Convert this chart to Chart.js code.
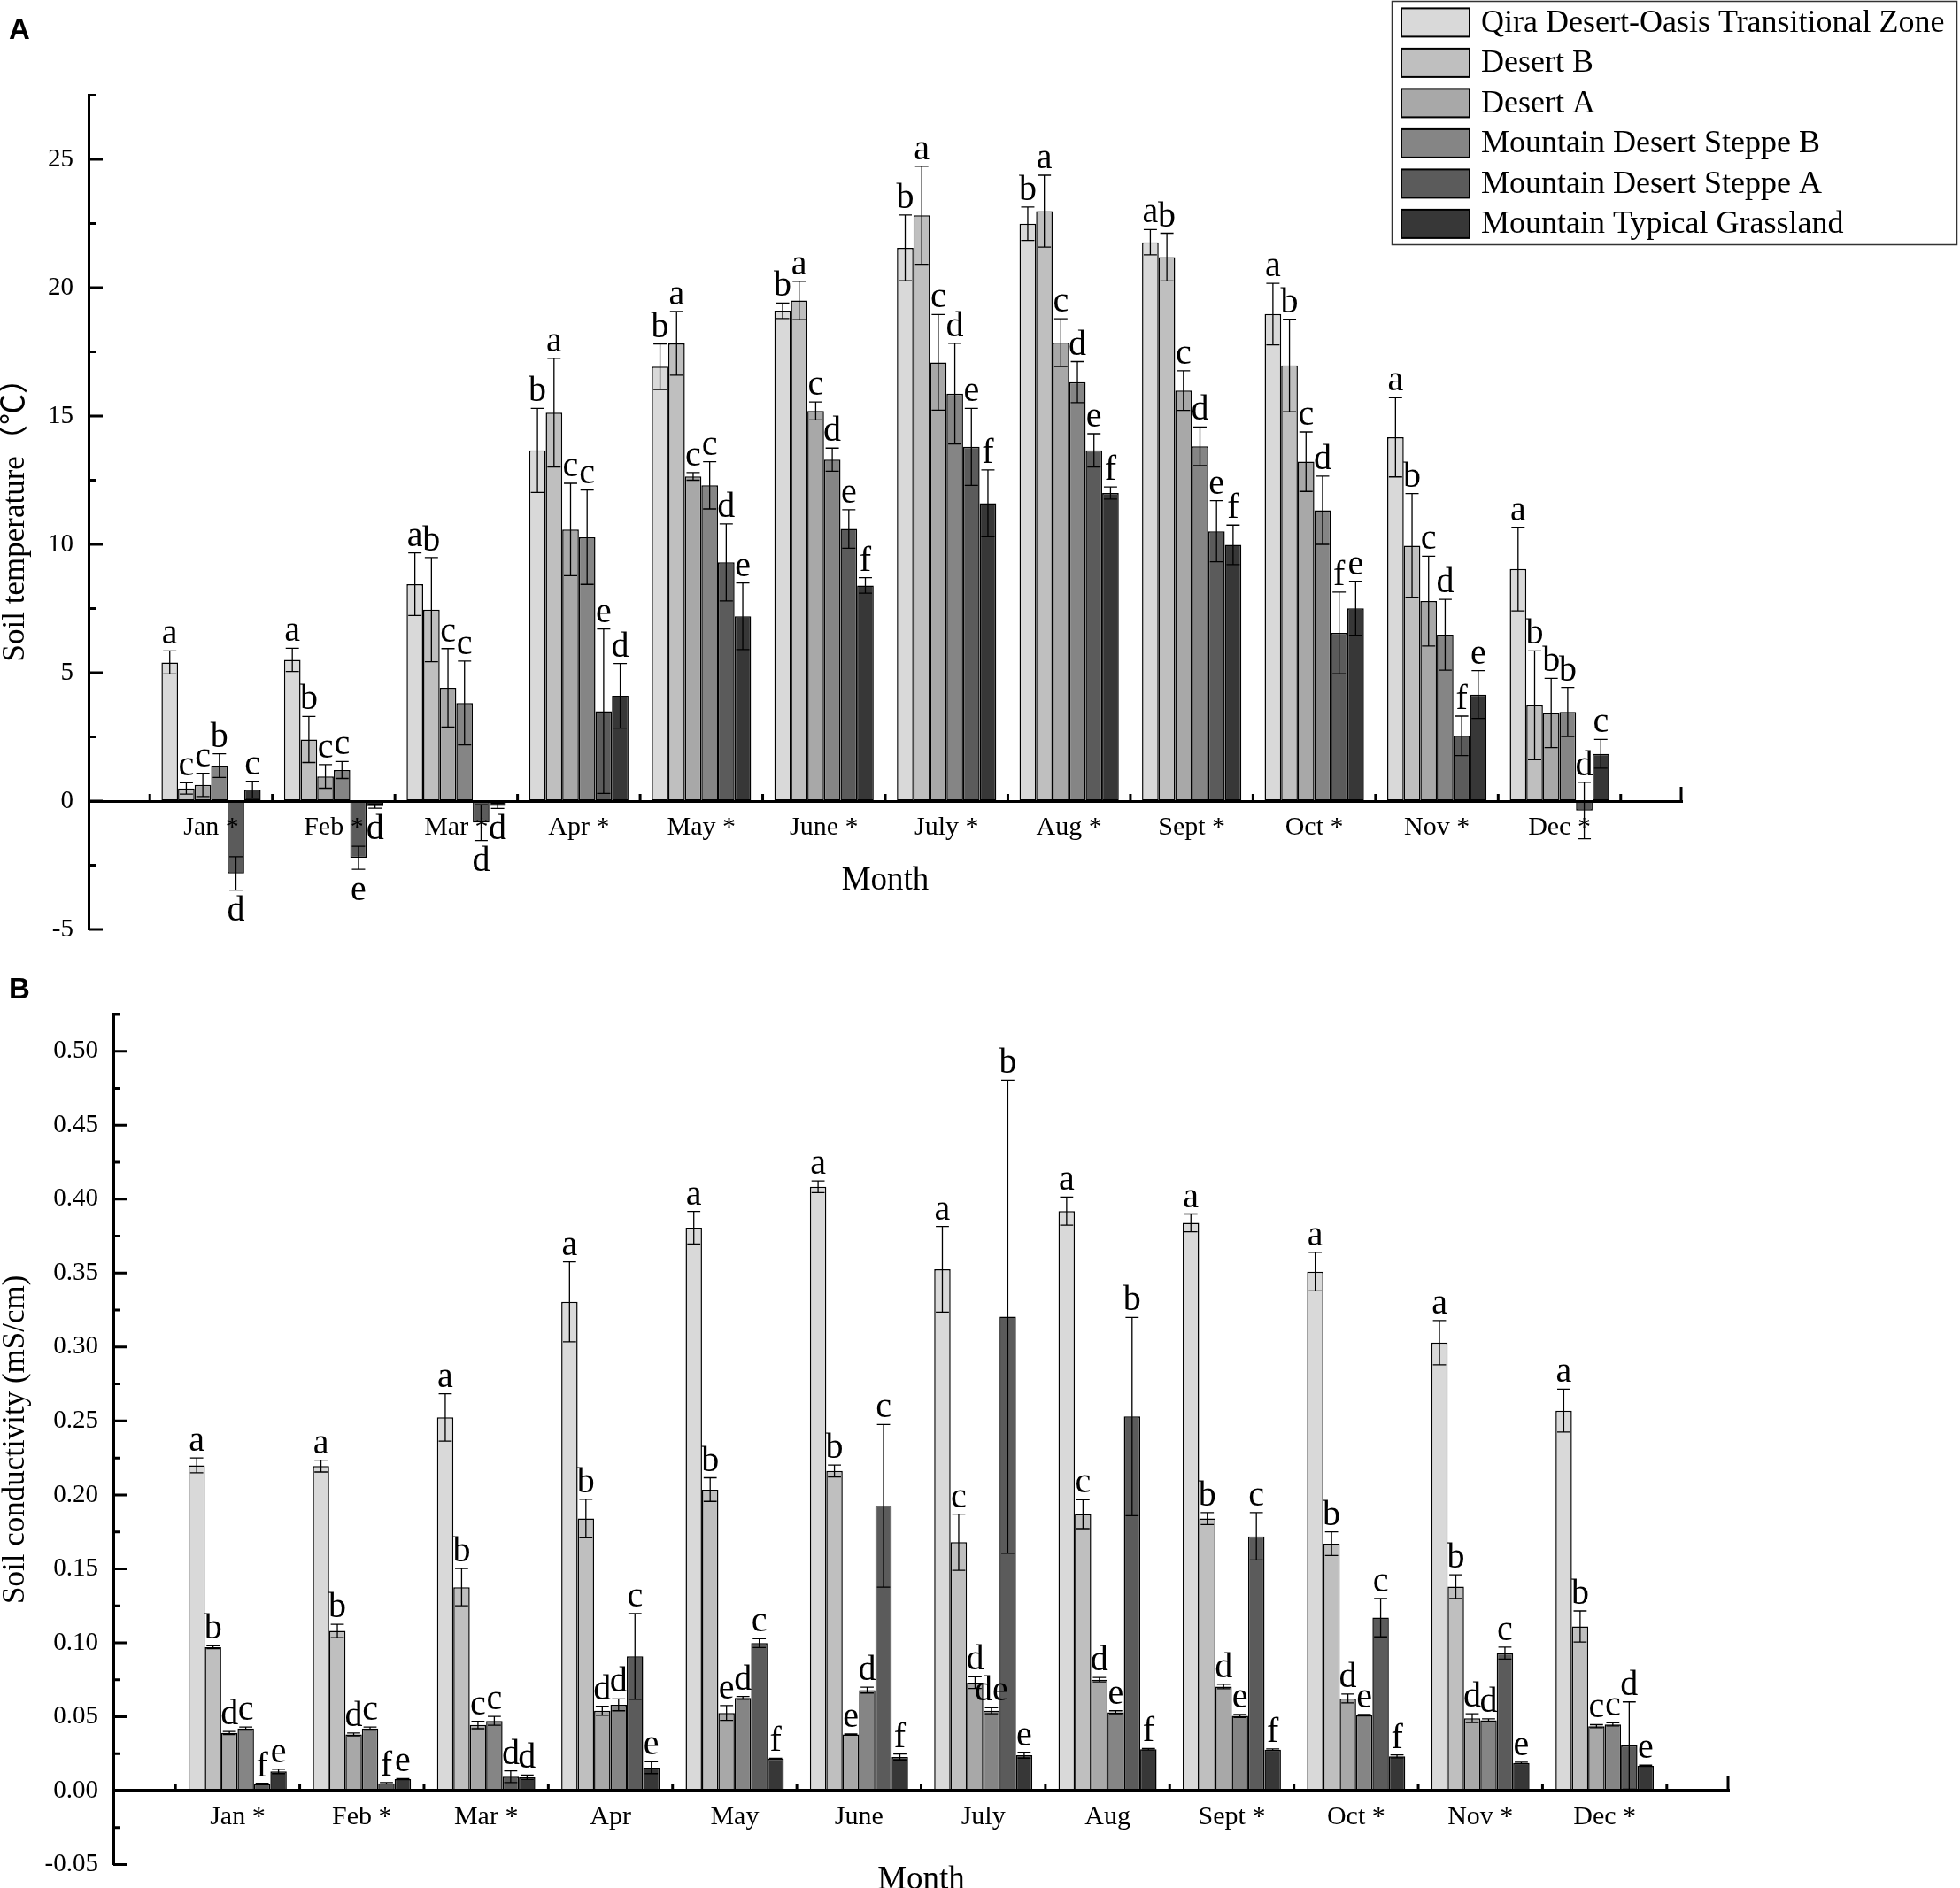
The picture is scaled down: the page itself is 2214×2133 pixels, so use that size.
<!DOCTYPE html>
<html>
<head>
<meta charset="utf-8">
<script src="https://cdn.jsdelivr.net/npm/chart.js@4.4.0/dist/chart.umd.min.js"></script>
<style>
  body { margin: 0; background: #fff; }
  canvas { position: absolute; left: 0; }
</style>
</head>
<body>
<canvas id="chartA" width="2214" height="1066" style="top:0;width:2214px;height:1066px"></canvas>
<canvas id="chartB" width="2214" height="1067" style="top:1066px;width:2214px;height:1067px"></canvas>
<script>
const zones = ['Qira Desert-Oasis Transitional Zone', 'Desert B', 'Desert A',
  'Mountain Desert Steppe B', 'Mountain Desert Steppe A', 'Mountain Typical Grassland'];
const zoneColors = ['#d9d9d9', '#bfbfbf', '#a8a8a8', '#858585', '#5b5b5b', '#373737'];

const tempMonthLabels = ['Jan *', 'Feb *', 'Mar *', 'Apr *', 'May *', 'June *', 'July *', 'Aug *', 'Sept *', 'Oct *', 'Nov *', 'Dec *'];
const condMonthLabels = ['Jan *', 'Feb *', 'Mar *', 'Apr', 'May', 'June', 'July', 'Aug', 'Sept *', 'Oct *', 'Nov *', 'Dec *'];

// A: soil temperature (deg C), mean and SD
const tempQira      = [5.4, 5.5, 8.45, 13.66, 16.92, 19.1, 21.55, 22.49, 21.77, 18.97, 14.17, 9.04];
const tempQiraSD    = [0.45, 0.45, 1.22, 1.64, 0.89, 0.3, 1.28, 0.65, 0.49, 1.2, 1.54, 1.63];
const tempDesertB   = [0.49, 2.4, 7.46, 15.13, 17.83, 19.5, 22.82, 22.98, 21.19, 16.97, 9.95, 3.73];
const tempDesertBSD = [0.22, 0.9, 2.03, 2.12, 1.24, 0.75, 1.91, 1.4, 0.93, 1.8, 2.03, 2.12];
const tempDesertA   = [0.63, 0.96, 4.41, 10.58, 12.65, 15.2, 17.09, 17.86, 15.99, 13.22, 7.79, 3.43];
const tempDesertASD = [0.45, 0.46, 1.53, 1.8, 0.15, 0.35, 1.86, 0.93, 0.77, 1.16, 1.75, 1.35];
const tempSteppeB   = [1.38, 1.21, 3.82, 10.28, 12.3, 13.3, 15.87, 16.32, 13.82, 11.33, 6.48, 3.47];
const tempSteppeBSD = [0.46, 0.33, 1.63, 1.84, 0.92, 0.45, 1.96, 0.8, 0.75, 1.33, 1.38, 0.96];
const tempSteppeA   = [-2.82, -2.21, -0.84, 3.5, 9.3, 10.6, 13.8, 13.66, 10.51, 6.55, 2.54, -0.37];
const tempSteppeASD = [0.65, 0.45, 0.7, 3.2, 1.5, 0.75, 1.5, 0.65, 1.19, 1.59, 0.77, 1.1];
const tempGrass     = [0.44, -0.2, -0.19, 4.1, 7.2, 8.4, 11.6, 12.0, 9.98, 7.51, 4.15, 1.84];
const tempGrassSD   = [0.33, 0.08, 0.1, 1.26, 1.3, 0.3, 1.3, 0.24, 0.77, 1.05, 0.93, 0.56];

const tempQiraSig    = ['a', 'a', 'a', 'b', 'b', 'b', 'b', 'b', 'a', 'a', 'a', 'a'];
const tempDesertBSig = ['c', 'b', 'b', 'a', 'a', 'a', 'a', 'a', 'b', 'b', 'b', 'b'];
const tempDesertASig = ['c', 'c', 'c', 'c', 'c', 'c', 'c', 'c', 'c', 'c', 'c', 'b'];
const tempSteppeBSig = ['b', 'c', 'c', 'c', 'c', 'd', 'd', 'd', 'd', 'd', 'd', 'b'];
const tempSteppeASig = ['d', 'e', 'd', 'e', 'd', 'e', 'e', 'e', 'e', 'f', 'f', 'd'];
const tempGrassSig   = ['c', 'd', 'd', 'd', 'e', 'f', 'f', 'f', 'f', 'e', 'e', 'c'];

// B: soil conductivity (mS/cm), mean and SD
const condQira      = [0.220, 0.2195, 0.2524, 0.3306, 0.3807, 0.4084, 0.3526, 0.392, 0.384, 0.351, 0.303, 0.257];
const condQiraSD    = [0.005, 0.004, 0.016, 0.027, 0.011, 0.004, 0.029, 0.0095, 0.006, 0.013, 0.015, 0.0145];
const condDesertB   = [0.097, 0.108, 0.1376, 0.184, 0.2036, 0.2162, 0.168, 0.187, 0.184, 0.167, 0.138, 0.111];
const condDesertBSD = [0.001, 0.0045, 0.0126, 0.013, 0.008, 0.004, 0.019, 0.0098, 0.004, 0.008, 0.008, 0.0105];
const condDesertA   = [0.039, 0.038, 0.0444, 0.054, 0.0525, 0.038, 0.073, 0.075, 0.0704, 0.0623, 0.049, 0.0436];
const condDesertASD = [0.001, 0.001, 0.0025, 0.003, 0.005, 0.0003, 0.004, 0.0015, 0.0015, 0.003, 0.003, 0.001];
const condSteppeB   = [0.042, 0.042, 0.0472, 0.058, 0.0627, 0.068, 0.054, 0.053, 0.0505, 0.051, 0.0476, 0.0448];
const condSteppeBSD = [0.001, 0.001, 0.003, 0.004, 0.001, 0.002, 0.002, 0.001, 0.001, 0.0005, 0.001, 0.001];
const condSteppeA   = [0.0045, 0.0049, 0.0094, 0.0908, 0.0998, 0.1926, 0.3205, 0.253, 0.172, 0.117, 0.093, 0.0305];
const condSteppeASD = [0.0005, 0.0005, 0.004, 0.029, 0.003, 0.055, 0.16, 0.067, 0.016, 0.013, 0.004, 0.0295];
const condGrass     = [0.013, 0.0077, 0.009, 0.0155, 0.0216, 0.0228, 0.024, 0.028, 0.0277, 0.0232, 0.0187, 0.0167];
const condGrassSD   = [0.0015, 0.0005, 0.0015, 0.004, 0.0003, 0.002, 0.002, 0.0005, 0.0005, 0.001, 0.0005, 0.0005];

const condQiraSig    = ['a', 'a', 'a', 'a', 'a', 'a', 'a', 'a', 'a', 'a', 'a', 'a'];
const condDesertBSig = ['b', 'b', 'b', 'b', 'b', 'b', 'c', 'c', 'b', 'b', 'b', 'b'];
const condDesertASig = ['d', 'd', 'c', 'd', 'e', 'e', 'd', 'd', 'd', 'd', 'd', 'c'];
const condSteppeBSig = ['c', 'c', 'c', 'd', 'd', 'd', 'de', 'e', 'e', 'e', 'd', 'c'];
const condSteppeASig = ['f', 'f', 'd', 'c', 'c', 'c', 'b', 'b', 'c', 'c', 'c', 'd'];
const condGrassSig   = ['e', 'e', 'd', 'e', 'f', 'f', 'e', 'f', 'f', 'f', 'e', 'e'];

const SERIF = '"Liberation Serif", "Noto Sans CJK SC", serif';

// one empty half-slot each side of the months, as in the original axis
const pad = a => [null, ...a, null];

function makeDatasets(values, sds, sigs, catPct) {
  return values.map((v, i) => ({
    label: zones[i],
    data: pad(v),
    errors: pad(sds[i]),
    letters: pad(sigs[i]),
    backgroundColor: zoneColors[i],
    borderColor: '#000',
    borderWidth: 1.5,
    borderSkipped: false,
    categoryPercentage: catPct,
    barPercentage: 1
  }));
}

const decor = {
  id: 'decor',
  afterDatasetsDraw(chart, args, opts) {
    const ctx = chart.ctx, ys = chart.scales.y;
    ctx.save();
    ctx.font = '40px ' + SERIF;
    ctx.fillStyle = '#000';
    ctx.strokeStyle = '#000';
    chart.data.datasets.forEach((ds, i) => {
      chart.getDatasetMeta(i).data.forEach((bar, j) => {
        const v = ds.data[j];
        if (v == null) return;
        const e = ds.errors[j];
        const top = ys.getPixelForValue(v + e), bot = ys.getPixelForValue(v - e);
        const cap = bar.width * 0.4;
        ctx.lineWidth = 1.3;
        ctx.beginPath();
        ctx.moveTo(bar.x, top); ctx.lineTo(bar.x, bot);
        ctx.moveTo(bar.x - cap, top); ctx.lineTo(bar.x + cap, top);
        ctx.moveTo(bar.x - cap, bot); ctx.lineTo(bar.x + cap, bot);
        ctx.stroke();
        // significance letter above the whisker, or below it for negative means
        ctx.textAlign = 'center';
        if (v + e >= 0) {
          ctx.textBaseline = 'alphabetic';
          ctx.fillText(ds.letters[j], bar.x, top - 8);
        } else {
          ctx.textBaseline = 'top';
          ctx.fillText(ds.letters[j], bar.x, bot + 4);
        }
      });
    });
    ctx.restore();
  },
  afterDraw(chart, args, opts) {
    const ctx = chart.ctx, xs = chart.scales.x, ys = chart.scales.y, area = chart.chartArea;
    const y0 = ys.getPixelForValue(0);
    ctx.save();
    ctx.strokeStyle = '#000';
    ctx.lineWidth = 3;
    ctx.beginPath();
    // inward ticks on the y axis
    ys.ticks.forEach(t => {
      const py = ys.getPixelForValue(t.value);
      const len = opts.isMajor(t.value) ? 16 : 8;
      ctx.moveTo(area.left, py); ctx.lineTo(area.left + len, py);
    });
    // inward ticks between month groups
    for (let k = 0; k < xs.ticks.length - 1; k++) {
      const px = (xs.getPixelForValue(k) + xs.getPixelForValue(k + 1)) / 2;
      ctx.moveTo(px, y0); ctx.lineTo(px, y0 - 8);
    }
    ctx.moveTo(area.right - 1, y0); ctx.lineTo(area.right - 1, y0 - 16);
    ctx.stroke();

    ctx.fillStyle = '#000';
    ctx.font = 'bold 33px "Liberation Sans", Arial, sans-serif';
    ctx.textAlign = 'left'; ctx.textBaseline = 'middle';
    ctx.fillText(opts.panel, 10, opts.panelY);

    if (opts.legend) {
      ctx.lineWidth = 1.5;
      ctx.strokeStyle = '#333';
      ctx.strokeRect(1572.5, 1.5, 638, 275);
      ctx.font = '36px ' + SERIF;
      chart.data.datasets.forEach((ds, i) => {
        const cy = 25.4 + i * 45.5;
        ctx.fillStyle = ds.backgroundColor;
        ctx.fillRect(1583, cy - 16, 77, 32);
        ctx.lineWidth = 2;
        ctx.strokeStyle = '#000';
        ctx.strokeRect(1583, cy - 16, 77, 32);
        ctx.fillStyle = '#000';
        ctx.fillText(ds.label, 1673, cy + 1);
      });
    }
    ctx.restore();
  }
};

function makeChart(id, cfg) {
  return new Chart(document.getElementById(id), {
    type: 'bar',
    data: {
      labels: pad(cfg.labels).map(l => l || ''),
      datasets: makeDatasets(cfg.values, cfg.sds, cfg.sigs, cfg.catPct)
    },
    options: {
      responsive: false,
      devicePixelRatio: 1,
      animation: false,
      layout: { padding: cfg.padding },
      plugins: {
        legend: { display: false },
        tooltip: { enabled: false },
        decor: { panel: cfg.panel, panelY: cfg.panelY, legend: cfg.legend, isMajor: cfg.isMajor }
      },
      scales: {
        x: {
          type: 'category',
          offset: false,
          position: { y: 0 },
          grid: { display: false, drawTicks: false },
          // month labels and the zero line sit on top of the negative bars
          border: { display: true, width: 3, color: '#000', z: 1 },
          ticks: { z: 1, color: '#000', font: { family: SERIF, size: 30 }, padding: cfg.xPad, autoSkip: false, maxRotation: 0 },
          title: { display: true, text: 'Month', color: '#000', font: { family: SERIF, size: 37 }, padding: { top: cfg.titlePad, bottom: 0 } }
        },
        y: {
          min: cfg.min,
          max: cfg.max,
          // tick marks are drawn inward by the plugin; these only reserve room for the labels
          grid: { display: true, drawOnChartArea: false, drawTicks: true, tickLength: 16, tickColor: 'rgba(0,0,0,0)' },
          border: { display: true, width: 3, color: '#000' },
          afterFit: s => { s.width = cfg.yWidth; },
          ticks: {
            stepSize: cfg.step,
            autoSkip: false,
            color: '#000',
            padding: 1,
            font: { family: SERIF, size: 29, lineHeight: 1 },
            callback: cfg.tickLabel
          },
          title: { display: true, text: cfg.yTitle, color: '#000', font: { family: SERIF, size: 35, lineHeight: 1 }, padding: 0 }
        }
      }
    },
    plugins: [decor]
  });
}

const isMajorTemp = v => Math.abs(v / 5 - Math.round(v / 5)) < 1e-6;
const isMajorCond = v => Math.abs(v * 20 - Math.round(v * 20)) < 1e-6;

makeChart('chartA', {
  panel: 'A', panelY: 35, legend: true,
  labels: tempMonthLabels,
  values: [tempQira, tempDesertB, tempDesertA, tempSteppeB, tempSteppeA, tempGrass],
  sds: [tempQiraSD, tempDesertBSD, tempDesertASD, tempSteppeBSD, tempSteppeASD, tempGrassSD],
  sigs: [tempQiraSig, tempDesertBSig, tempDesertASig, tempSteppeBSig, tempSteppeASig, tempGrassSig],
  catPct: 0.81,
  padding: { top: 107.5, bottom: 16, left: 0, right: 314 },
  yWidth: 100,
  min: -5, max: 27.5, step: 2.5,
  isMajor: isMajorTemp,
  tickLabel: v => isMajorTemp(v) ? String(Math.round(v)) : '',
  yTitle: 'Soil temperature（℃）',
  xPad: 12, titlePad: 8
});

makeChart('chartB', {
  panel: 'B', panelY: 53, legend: false,
  labels: condMonthLabels,
  values: [condQira, condDesertB, condDesertA, condSteppeB, condSteppeA, condGrass],
  sds: [condQiraSD, condDesertBSD, condDesertASD, condSteppeBSD, condSteppeASD, condGrassSD],
  sigs: [condQiraSig, condDesertBSig, condDesertASig, condSteppeBSig, condSteppeASig, condGrassSig],
  catPct: 0.79,
  padding: { top: 80, bottom: 26.5, left: 0, right: 261 },
  yWidth: 128,
  min: -0.05, max: 0.525, step: 0.025,
  isMajor: isMajorCond,
  tickLabel: v => isMajorCond(v) ? v.toFixed(2) : '',
  yTitle: 'Soil conductivity (mS/cm)',
  xPad: 12, titlePad: 19
});
</script>
</body>
</html>
